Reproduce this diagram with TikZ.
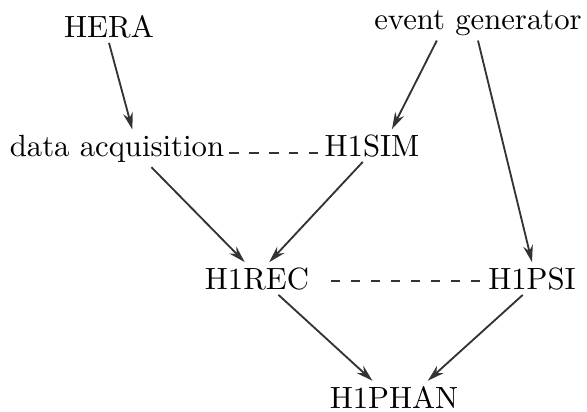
\documentclass[tikz,border=0pt]{standalone}
\usetikzlibrary{arrows.meta}
\begin{document}
\begin{tikzpicture}[x=0.3256pt,y=-0.3256pt,
  lbl/.style={inner sep=1.5pt,anchor=base},
  flow/.style={-{Stealth[length=5.5pt,width=3.2pt]},black!80,line width=0.6pt},
  link/.style={black!80,line width=0.6pt,dash pattern=on 3pt off 3.5pt}]
\useasboundingbox (0,0) rectangle (587,412);
\node[lbl] (hera) at (109,37) {HERA};
\node[lbl] (evgen) at (478,29) {event generator};
\node[lbl] (daq) at (117,156) {data acquisition};
\node[lbl] (sim) at (372,156) {H1SIM};
\node[lbl] (rec) at (257,289) {H1REC};
\node[lbl] (psi) at (532,289) {H1PSI};
\node[lbl] (phan) at (394,408) {H1PHAN};
% arrows
\draw[flow] (hera.south) -- ([xshift=5pt]daq.north);
\draw[flow] ([xshift=-13.4pt]evgen.south) -- ([xshift=6.5pt]sim.north);
\draw[flow] (evgen.south) -- (psi.north);
\draw[flow] ([xshift=11.2pt]daq.south) -- ([xshift=-4pt]rec.north);
\draw[flow] ([xshift=-3pt]sim.south) -- ([xshift=4pt]rec.north);
\draw[flow] ([xshift=7pt]rec.south) -- ([xshift=-7pt]phan.north);
\draw[flow] ([xshift=-3pt]psi.south) -- ([xshift=11pt]phan.north);
% dashed links
\draw[link] ([yshift=1pt]daq.base east) -- ([xshift=1.5pt,yshift=1pt]sim.base west);
\draw[link] ([xshift=5.5pt,yshift=2.6pt]rec.base east) -- ([xshift=1.5pt,yshift=2.6pt]psi.base west);
\end{tikzpicture}
\end{document}
